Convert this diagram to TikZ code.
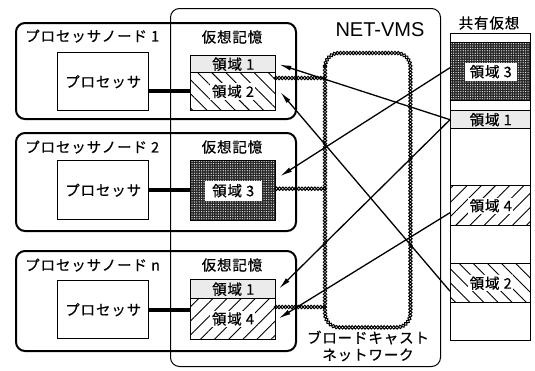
\documentclass[tikz,border=0pt]{standalone}
\usepackage{fontspec}
\setmainfont{Noto Sans CJK JP}[LetterSpace=6,FakeBold=0.6]
\newfontfamily\lsans{Liberation Sans}
\usetikzlibrary{patterns.meta,decorations.markings,arrows.meta,calc}
\tikzset{
  nodebox/.style={draw, line width=2pt, rounded corners=9pt, minimum width=280pt, anchor=north west, inner sep=0pt},
  plainbox/.style={draw, line width=1.4pt, anchor=north west, inner sep=0pt, fill=white},
  lightbox/.style={plainbox, fill=black!8},
  darkbox/.style={plainbox, preaction={fill=black!85}, pattern={Dots[distance=2.4pt,radius=0.6pt]}, pattern color=white},
  hatchA/.style={plainbox, preaction={fill=white}, pattern={Lines[angle=-45,distance=10pt,line width=0.9pt]}},
  hatchB/.style={plainbox, preaction={fill=white}, pattern={Lines[angle=45,distance=10pt,line width=0.9pt]}},
  whitelab/.style={fill=white, inner sep=1.5pt},
  chain/.style={decorate, decoration={markings, mark=between positions 0 and 1 step 3.2pt with {\draw[line width=1pt] (0,0) circle (1.7pt);}}},
  arr/.style={-{Latex[length=12pt,width=5pt]}, line width=1.3pt, shorten >=1pt},
  thick/.style={line width=4pt},
  txt/.style={inner sep=0pt},
}
\begin{document}
\begin{tikzpicture}[x=1pt,y=-1pt,font=\fontsize{14.5}{17}\selectfont]
\useasboundingbox (0,0) rectangle (535,370);
% NET-VMS frame
\node[draw, line width=1pt, rounded corners=9pt, anchor=north west, minimum width=270pt, minimum height=358pt, inner sep=0pt] (vms) at (170,8) {};
\node[txt, font=\lsans\fontsize{20}{23}\selectfont] (vmslab) at (380,30) {NET-VMS};
% processor nodes
\node[nodebox, minimum height=96pt] (n1) at (15,22) {};
\node[nodebox, minimum height=98pt] (n2) at (15,132) {};
\node[nodebox, minimum height=100pt] (nn) at (15,250) {};
\node[txt, anchor=west] (l1) at (25,36) {プロセッサノード 1};
\node[txt, anchor=west] (l2) at (25,147) {プロセッサノード 2};
\node[txt, anchor=west] (ln) at (25,265) {プロセッサノード n};
\node[txt] (v1) at (232,37) {仮想記憶};
\node[txt] (v2) at (232,147) {仮想記憶};
\node[txt] (vn) at (232,265) {仮想記憶};
% processors
\node[plainbox, minimum width=91pt, minimum height=58pt] (p1) at (57,52) {};
\node[plainbox, minimum width=91pt, minimum height=59pt] (p2) at (57,160) {};
\node[plainbox, minimum width=91pt, minimum height=58pt] (pn) at (57,280) {};
\node[txt] at (p1.center) {プロセッサ};
\node[txt] at (p2.center) {プロセッサ};
\node[txt] at (pn.center) {プロセッサ};
% memories
\node[lightbox, minimum width=85pt, minimum height=17pt] (m1a) at (190,55) {};
\node[hatchA, minimum width=85pt, minimum height=38pt] (m1b) at (190,72) {};
\node[darkbox, minimum width=85pt, minimum height=60pt] (m2) at (190,160) {};
\node[lightbox, minimum width=85pt, minimum height=19pt] (mna) at (190,279) {};
\node[hatchB, minimum width=85pt, minimum height=41pt] (mnb) at (190,298) {};
\node[txt] at (m1a.center) {領域 1};
\node[whitelab] at (m1b.center) {領域 2};
\node[whitelab, minimum width=57pt, minimum height=20pt] at (m2.center) {領域 3};
\node[txt] at (mna.center) {領域 1};
\node[whitelab] at (mnb.center) {領域 4};
% processor-memory links
\draw[thick] (p1.east |- m1b.west) -- (m1b.west);
\draw[thick] (p2.east) -- (p2.east -| m2.west);
\draw[thick] (pn.east) -- (pn.east -| mnb.west);
% broadcast network
\node[anchor=north west, minimum width=85pt, minimum height=274pt, inner sep=0pt] (bc) at (325,53) {};
\path[chain, rounded corners=14pt] (bc.north west) rectangle (bc.south east);
\node[txt, align=center, font=\fontsize{14.5}{17}\selectfont] (bclab) at (368,346) {ブロードキャスト\\ネットワーク};
\coordinate (c1) at ([yshift=-6pt]m1b.north east);
\coordinate (c2) at ([yshift=2pt]m2.east);
\coordinate (c3) at ([yshift=-9pt]mnb.north east);
\path[chain] (c1) -- (c1 -| bc.west);
\path[chain] (c2) -- (c2 -| bc.west);
\path[chain] (c3) -- (c3 -| bc.west);
% shared virtual memory
\node[txt] (shl) at (489,23) {共有仮想};
\node[plainbox, minimum width=80pt, minimum height=9pt] (s0) at (450,33) {};
\node[darkbox, minimum width=80pt, minimum height=58pt] (s3) at (450,42) {};
\node[plainbox, minimum width=80pt, minimum height=10pt] (sa) at (450,100) {};
\node[lightbox, minimum width=80pt, minimum height=18pt] (s1) at (450,110) {};
\node[plainbox, minimum width=80pt, minimum height=57pt] (sb) at (450,128) {};
\node[hatchB, minimum width=80pt, minimum height=40pt] (s4) at (450,185) {};
\node[plainbox, minimum width=80pt, minimum height=38pt] (sc) at (450,225) {};
\node[hatchA, minimum width=80pt, minimum height=39pt] (s2) at (450,263) {};
\node[plainbox, minimum width=80pt, minimum height=38pt] (sd) at (450,302) {};
\node[whitelab, minimum width=52pt, minimum height=18pt] at (s3.center) {領域 3};
\node[txt] at (s1.center) {領域 1};
\node[whitelab] at (s4.center) {領域 4};
\node[whitelab] at (s2.center) {領域 2};
% arrows
\draw[arr] (s1.west) -- ([xshift=2pt]m1a.east);
\draw[arr] ([yshift=4pt]s3.west) -- ([xshift=3pt,yshift=14pt]m2.east);
\draw[arr] (s1.west) -- ([xshift=2pt]mna.east);
\draw[arr] ([yshift=-7pt]s4.west) -- ([xshift=2pt]mnb.east);
\draw[arr] ([yshift=-8pt]s2.west) -- ([xshift=4pt]m1b.east);
\end{tikzpicture}
\end{document}
